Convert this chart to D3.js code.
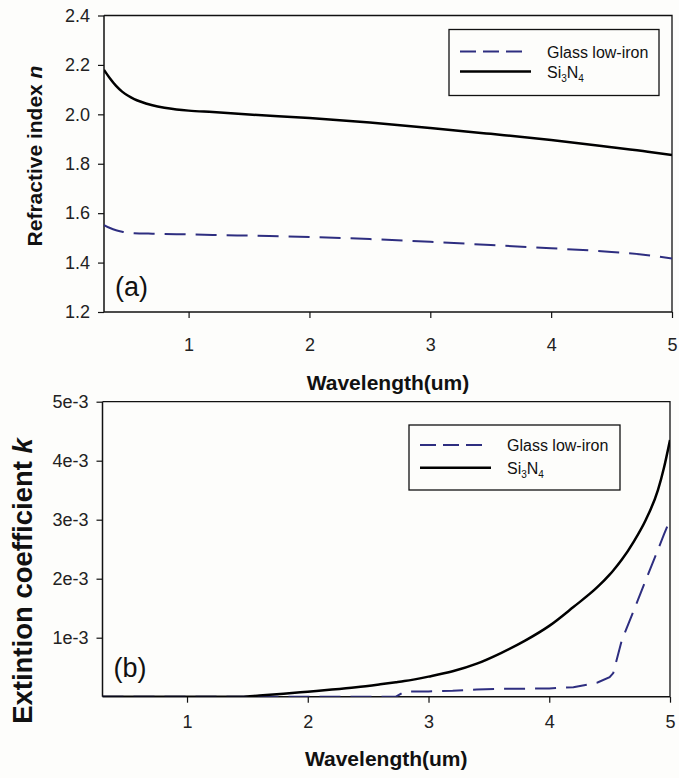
<!DOCTYPE html>
<html>
<head>
<meta charset="utf-8">
<script src="https://cdn.jsdelivr.net/npm/d3@7"></script>
<style>
  html, body { margin: 0; padding: 0; background: #fdfdfb; }
  svg { display: block; font-family: Arial, "Liberation Sans", sans-serif; }
</style>
</head>
<body>
<svg id="fig" width="679" height="778"></svg>
<script>
// Optical constants vs wavelength (um)
const seriesNames = ["Glass low-iron", "Si3N4"];

// (a) refractive index n
const lambdaN = [0.3, 0.35, 0.4, 0.45, 0.5, 0.55, 0.6, 0.7, 0.8, 0.9, 1.0, 1.2, 1.5, 2.0, 2.5, 3.0, 3.5, 4.0, 4.5, 4.8, 5.0];
const nGlass  = [1.552, 1.540, 1.531, 1.525, 1.521, 1.519, 1.518, 1.517, 1.516, 1.515, 1.514, 1.512, 1.509, 1.504, 1.495, 1.484, 1.471, 1.458, 1.443, 1.430, 1.416];
const nSi3N4  = [2.180, 2.145, 2.115, 2.092, 2.075, 2.062, 2.052, 2.037, 2.027, 2.020, 2.015, 2.009, 1.999, 1.985, 1.967, 1.945, 1.921, 1.896, 1.867, 1.849, 1.835];

// (b) extinction coefficient k
const lambdaK = [0.3, 1.0, 1.45, 1.6, 1.8, 2.0, 2.2, 2.4, 2.6, 2.73, 2.8, 3.0, 3.2, 3.4, 3.6, 3.8, 4.0, 4.2, 4.4, 4.5, 4.53, 4.6, 4.7, 4.8, 4.9, 4.95, 5.0];
const kGlass  = [0, 0, 0, 0, 0, 0, 0, 0, 0, 0, 0.085e-3, 0.09e-3, 0.10e-3, 0.12e-3, 0.135e-3, 0.135e-3, 0.14e-3, 0.16e-3, 0.24e-3, 0.33e-3, 0.40e-3, 0.95e-3, 1.46e-3, 1.98e-3, 2.49e-3, 2.75e-3, 3.0e-3];
const kSi3N4  = [0, 0, 0, 0.02e-3, 0.05e-3, 0.085e-3, 0.12e-3, 0.16e-3, 0.21e-3, 0.245e-3, 0.265e-3, 0.34e-3, 0.43e-3, 0.56e-3, 0.74e-3, 0.95e-3, 1.2e-3, 1.52e-3, 1.86e-3, 2.07e-3, 2.14e-3, 2.32e-3, 2.63e-3, 3.0e-3, 3.5e-3, 3.88e-3, 4.35e-3];

// axis ticks
const xTicks = [1, 2, 3, 4, 5];
const nTicks = [1.2, 1.4, 1.6, 1.8, 2.0, 2.2, 2.4];
const kTicks = [1e-3, 2e-3, 3e-3, 4e-3, 5e-3];
const kTickLabels = ["1e-3", "2e-3", "3e-3", "4e-3", "5e-3"];

const glassColor = "#2e2e80";
const axisColor = "#111";

const svg = d3.select("#fig");

function drawPanel(cfg) {
  const g = svg.append("g");
  const x = d3.scaleLinear().domain([0.3, 5]).range([cfg.left, cfg.right]);
  const y = d3.scaleLinear().domain(cfg.yDomain).range([cfg.bottom, cfg.top]);

  // frame: top and right edges
  g.append("path")
    .attr("d", `M${cfg.left},${cfg.top}H${cfg.right}V${cfg.bottom}`)
    .attr("fill", "none").attr("stroke", axisColor).attr("stroke-width", 1.3);

  // x axis
  const xa = g.append("g").attr("transform", `translate(0,${cfg.bottom})`)
    .call(d3.axisBottom(x).tickValues(xTicks).tickSize(6).tickPadding(cfg.xPad).tickFormat(d3.format("d")));
  // y axis
  const ya = g.append("g").attr("transform", `translate(${cfg.left},0)`)
    .call(d3.axisLeft(y).tickValues(cfg.yTicks).tickSize(6).tickPadding(8).tickFormat(cfg.yFormat));
  [xa, ya].forEach(a => {
    a.select(".domain").attr("stroke", axisColor).attr("stroke-width", 1.5);
    a.selectAll(".tick line").attr("stroke", axisColor).attr("stroke-width", 1.2);
    a.selectAll(".tick text").attr("fill", "#222").attr("font-size", 18)
      .attr("font-family", "Arial, 'Liberation Sans', sans-serif");
  });
  // keep domain ends flush with the plot edges
  xa.select(".domain").attr("d", `M${cfg.left},0H${cfg.right}`);
  ya.select(".domain").attr("d", `M0,${cfg.bottom}V${cfg.top}`);

  // data lines
  const clipId = "clip" + cfg.id;
  g.append("clipPath").attr("id", clipId).append("rect")
    .attr("x", cfg.left).attr("y", cfg.top - 2)
    .attr("width", cfg.right - cfg.left).attr("height", cfg.bottom - cfg.top + 2);

  const mk = (xs, ys) => xs.map((v, i) => [v, ys[i]]);
  const lineSmooth = d3.line().x(d => x(d[0])).y(d => y(d[1])).curve(d3.curveMonotoneX);
  const lineGlass = d3.line().x(d => x(d[0])).y(d => y(d[1])).curve(cfg.glassCurve);

  const lines = g.append("g").attr("clip-path", `url(#${clipId})`);
  lines.append("path").datum(mk(cfg.xs, cfg.glass))
    .attr("d", lineGlass).attr("fill", "none")
    .attr("stroke", glassColor).attr("stroke-width", 2).attr("stroke-dasharray", "21,10");
  lines.append("path").datum(mk(cfg.xs, cfg.si))
    .attr("d", lineSmooth).attr("fill", "none")
    .attr("stroke", "#000").attr("stroke-width", 2.5);

  // axis titles
  g.append("text")
    .attr("x", (cfg.left + cfg.right) / 2).attr("y", cfg.xTitleY)
    .attr("text-anchor", "middle").attr("font-weight", "bold").attr("font-size", 21)
    .attr("fill", "#111").text("Wavelength(um)");

  const yt = g.append("text")
    .attr("transform", `translate(${cfg.yTitleX},${cfg.yTitleCY}) rotate(-90)`)
    .attr("text-anchor", "middle").attr("font-weight", "bold").attr("font-size", cfg.yTitleSize)
    .attr("fill", "#111");
  yt.append("tspan").text(cfg.yTitle + " ");
  yt.append("tspan").attr("font-style", "italic").text(cfg.yVar);

  // panel tag
  g.append("text").attr("x", cfg.left + 11).attr("y", cfg.tagY)
    .attr("font-size", 27).attr("fill", "#111").text(cfg.tag);

  // legend
  const L = cfg.legend;
  g.append("rect").attr("x", L.x).attr("y", L.y).attr("width", L.w).attr("height", L.h)
    .attr("fill", "#fdfdfb").attr("stroke", axisColor).attr("stroke-width", 1.3);
  const row1 = L.y + L.r1, row2 = L.y + L.r2;
  g.append("line").attr("x1", L.x + 11).attr("x2", L.x + 74).attr("y1", row1).attr("y2", row1)
    .attr("stroke", glassColor).attr("stroke-width", 2).attr("stroke-dasharray", "16,7");
  g.append("line").attr("x1", L.x + 11).attr("x2", L.x + 82).attr("y1", row2).attr("y2", row2)
    .attr("stroke", "#000").attr("stroke-width", 2.5);
  g.append("text").attr("x", L.x + L.tx).attr("y", row1 + 6)
    .attr("font-size", 16).attr("fill", "#111").text(seriesNames[0]);
  const si = g.append("text").attr("x", L.x + L.tx).attr("y", row2 + 6)
    .attr("font-size", 16).attr("fill", "#111");
  si.append("tspan").text("Si");
  si.append("tspan").attr("font-size", 10).attr("dy", 4).text("3");
  si.append("tspan").attr("dy", -4).text("N");
  si.append("tspan").attr("font-size", 10).attr("dy", 4).text("4");
}

drawPanel({
  id: "a", left: 104, right: 672, top: 15.5, bottom: 312,
  yDomain: [1.2, 2.4], yTicks: nTicks, yFormat: d3.format(".1f"),
  xs: lambdaN, glass: nGlass, si: nSi3N4, glassCurve: d3.curveMonotoneX,
  xPad: 20, xTitleY: 390,
  yTitle: "Refractive index", yVar: "n", yTitleX: 41.5, yTitleCY: 156, yTitleSize: 21,
  tag: "(a)", tagY: 296,
  legend: { x: 449, y: 29.5, w: 210, h: 66, r1: 22, r2: 42, tx: 98 }
});

drawPanel({
  id: "b", left: 102.5, right: 670, top: 401.7, bottom: 696.7,
  yDomain: [0, 0.005], yTicks: kTicks, yFormat: (d, i) => kTickLabels[i],
  xs: lambdaK, glass: kGlass, si: kSi3N4, glassCurve: d3.curveLinear,
  xPad: 13, xTitleY: 766,
  yTitle: "Extintion coefficient", yVar: "k", yTitleX: 32, yTitleCY: 581, yTitleSize: 27.5,
  tag: "(b)", tagY: 677,
  legend: { x: 409, y: 425, w: 211, h: 65, r1: 20, r2: 42.7, tx: 98 }
});
</script>
</body>
</html>
